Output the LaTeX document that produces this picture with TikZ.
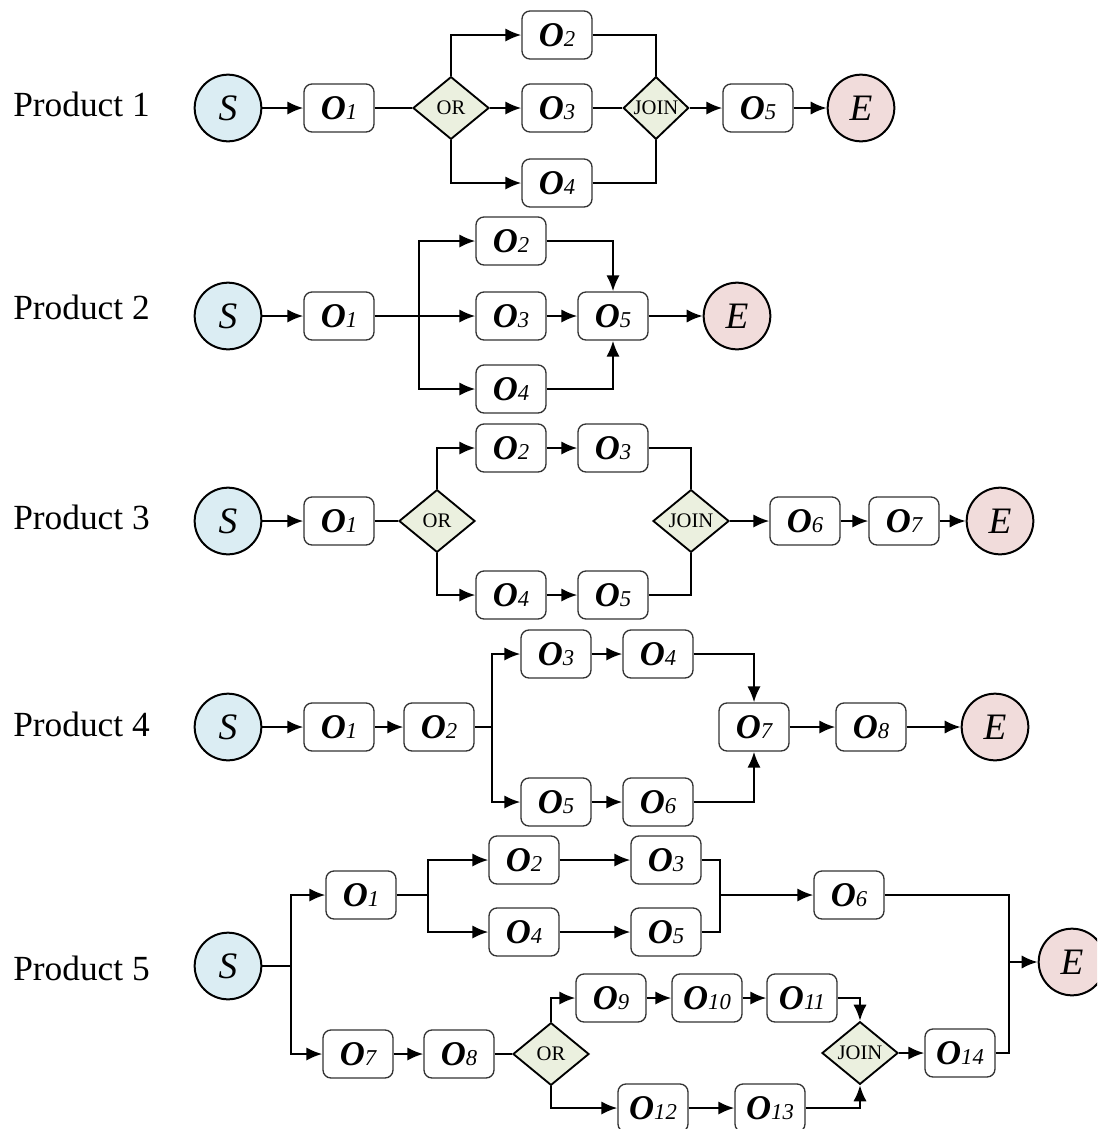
\documentclass[tikz,border=0pt]{standalone}
\usepackage{fontspec}
\setmainfont{Liberation Serif}
\usetikzlibrary{arrows.meta,shapes.geometric}

\definecolor{startfill}{HTML}{DBEDF3}
\definecolor{endfill}{HTML}{F1DCDB}
\definecolor{gatefill}{HTML}{EBF0DF}
\definecolor{boxline}{HTML}{333333}

% operation label: bold italic O with a smaller italic index
\newcommand{\opn}[1]{{\bfseries\itshape O}{\fontsize{17}{17}\selectfont\itshape #1}}

\tikzset{
  opbox/.style={draw=boxline, line width=1pt, rounded corners=6pt, fill=white,
    minimum width=52.5pt, minimum height=36pt, inner sep=0pt,
    font=\fontsize{26}{28}\selectfont},
  startpt/.style={circle, draw, line width=1.5pt, fill=startfill, minimum size=50pt,
    inner sep=0pt, font=\fontsize{28}{30}\selectfont\itshape},
  endpt/.style={startpt, fill=endfill},
  gate/.style={diamond, draw, line width=1.4pt, fill=gatefill, minimum width=57pt,
    minimum height=47pt, inner sep=0pt, font=\fontsize{15.5}{15.5}\selectfont},
  narrowgate/.style={gate, minimum width=49pt},
  rowlabel/.style={anchor=base west, inner sep=0pt, font=\fontsize{26.5}{30}\selectfont},
  link/.style={line width=1.7pt},
  flow/.style={link, -{Latex[length=12pt,width=10pt]}},
}

\begin{document}
\begin{tikzpicture}[x=0.75pt,y=-0.75pt]
\clip (0,0) rectangle (1097,1129);
\fill[white] (0,0) rectangle (1097,1129);

% ---------------- Product 1 ----------------
\node[rowlabel] (l1) at (13,116) {Product 1};
\node[startpt] (a-s) at (228,108) {S};
\node[opbox] (a-1) at (339,108) {\opn{1}};
\node[gate] (a-or) at (451,108) {OR};
\node[opbox] (a-2) at (557,35) {\opn{2}};
\node[opbox] (a-3) at (557,108) {\opn{3}};
\node[opbox] (a-4) at (557,183) {\opn{4}};
\node[narrowgate] (a-join) at (656,108) {JOIN};
\node[opbox] (a-5) at (758,108) {\opn{5}};
\node[endpt] (a-e) at (861,108) {E};

\draw[flow] (a-s) -- (a-1);
\draw[link] (a-1) -- (a-or);
\draw[flow] (a-or.north) |- (a-2.west);
\draw[flow] (a-or) -- (a-3);
\draw[flow] (a-or.south) |- (a-4.west);
\draw[link] (a-2.east) -| (a-join.north);
\draw[link] (a-3) -- (a-join);
\draw[link] (a-4.east) -| (a-join.south);
\draw[flow] (a-join) -- (a-5);
\draw[flow] (a-5) -- (a-e);

% ---------------- Product 2 ----------------
\node[rowlabel] (l2) at (13,319) {Product 2};
\node[startpt] (b-s) at (228,316) {S};
\node[opbox] (b-1) at (339,316) {\opn{1}};
\coordinate (b-fork) at (419,316);
\node[opbox] (b-2) at (511,241) {\opn{2}};
\node[opbox] (b-3) at (511,316) {\opn{3}};
\node[opbox] (b-4) at (511,389) {\opn{4}};
\node[opbox] (b-5) at (613,316) {\opn{5}};
\node[endpt] (b-e) at (737,316) {E};

\draw[flow] (b-s) -- (b-1);
\draw[flow] (b-1) -- (b-3);
\draw[flow] (b-fork) |- (b-2.west);
\draw[flow] (b-fork) |- (b-4.west);
\draw[flow] (b-2.east) -| (b-5.north);
\draw[flow] (b-3) -- (b-5);
\draw[flow] (b-4.east) -| (b-5.south);
\draw[flow] (b-5) -- (b-e);

% ---------------- Product 3 ----------------
\node[rowlabel] (l3) at (13,529) {Product 3};
\node[startpt] (c-s) at (228,521) {S};
\node[opbox] (c-1) at (339,521) {\opn{1}};
\node[gate] (c-or) at (437,521) {OR};
\node[opbox] (c-2) at (511,448) {\opn{2}};
\node[opbox] (c-3) at (613,448) {\opn{3}};
\node[opbox] (c-4) at (511,595) {\opn{4}};
\node[opbox] (c-5) at (613,595) {\opn{5}};
\node[gate] (c-join) at (691,521) {JOIN};
\node[opbox] (c-6) at (805,521) {\opn{6}};
\node[opbox] (c-7) at (904,521) {\opn{7}};
\node[endpt] (c-e) at (1000,521) {E};

\draw[flow] (c-s) -- (c-1);
\draw[link] (c-1) -- (c-or);
\draw[flow] (c-or.north) |- (c-2.west);
\draw[flow] (c-2) -- (c-3);
\draw[link] (c-3.east) -| (c-join.north);
\draw[flow] (c-or.south) |- (c-4.west);
\draw[flow] (c-4) -- (c-5);
\draw[link] (c-5.east) -| (c-join.south);
\draw[flow] (c-join) -- (c-6);
\draw[flow] (c-6) -- (c-7);
\draw[flow] (c-7) -- (c-e);

% ---------------- Product 4 ----------------
\node[rowlabel] (l4) at (13,736) {Product 4};
\node[startpt] (d-s) at (228,727) {S};
\node[opbox] (d-1) at (339,727) {\opn{1}};
\node[opbox] (d-2) at (439,727) {\opn{2}};
\coordinate (d-fork) at (492,727);
\node[opbox] (d-3) at (556,654) {\opn{3}};
\node[opbox] (d-4) at (658,654) {\opn{4}};
\node[opbox] (d-5) at (556,802) {\opn{5}};
\node[opbox] (d-6) at (658,802) {\opn{6}};
\node[opbox] (d-7) at (754,727) {\opn{7}};
\node[opbox] (d-8) at (871,727) {\opn{8}};
\node[endpt] (d-e) at (995,727) {E};

\draw[flow] (d-s) -- (d-1);
\draw[flow] (d-1) -- (d-2);
\draw[link] (d-2) -- (d-fork);
\draw[flow] (d-fork) |- (d-3.west);
\draw[flow] (d-fork) |- (d-5.west);
\draw[flow] (d-3) -- (d-4);
\draw[flow] (d-5) -- (d-6);
\draw[flow] (d-4.east) -| (d-7.north);
\draw[flow] (d-6.east) -| (d-7.south);
\draw[flow] (d-7) -- (d-8);
\draw[flow] (d-8) -- (d-e);

% ---------------- Product 5 ----------------
\node[rowlabel] (l5) at (13,980) {Product 5};
\node[startpt] (f-s) at (228,966) {S};
\coordinate (f-fork) at (291,966);
\node[opbox] (f-1) at (361,895) {\opn{1}};
\coordinate (f-fork1) at (428,895);
\node[opbox] (f-2) at (524,860) {\opn{2}};
\node[opbox] (f-3) at (666,860) {\opn{3}};
\node[opbox] (f-4) at (524,932) {\opn{4}};
\node[opbox] (f-5) at (666,932) {\opn{5}};
\coordinate (f-merge1) at (720,895);
\node[opbox] (f-6) at (849,895) {\opn{6}};
\node[opbox] (f-7) at (358,1054) {\opn{7}};
\node[opbox] (f-8) at (459,1054) {\opn{8}};
\node[gate] (f-or) at (551,1054) {OR};
\node[opbox] (f-9) at (611,998) {\opn{9}};
\node[opbox] (f-10) at (707,998) {\opn{10}};
\node[opbox] (f-11) at (802,998) {\opn{11}};
\node[opbox] (f-12) at (653,1108) {\opn{12}};
\node[opbox] (f-13) at (770,1108) {\opn{13}};
\node[gate] (f-join) at (860,1053) {JOIN};
\node[opbox] (f-14) at (960,1053) {\opn{14}};
\coordinate (f-merge2) at (1009,962);
\node[endpt] (f-e) at (1072,962) {E};

\draw[link] (f-s) -- (f-fork);
\draw[flow] (f-fork) |- (f-1.west);
\draw[flow] (f-fork) |- (f-7.west);
\draw[link] (f-1) -- (f-fork1);
\draw[flow] (f-fork1) |- (f-2.west);
\draw[flow] (f-fork1) |- (f-4.west);
\draw[flow] (f-2) -- (f-3);
\draw[flow] (f-4) -- (f-5);
\draw[link] (f-3.east) -| (f-merge1);
\draw[link] (f-5.east) -| (f-merge1);
\draw[flow] (f-merge1) -- (f-6.west);
\draw[flow] (f-7) -- (f-8);
\draw[link] (f-8) -- (f-or);
\draw[flow] (f-or.north) |- (f-9.west);
\draw[flow] (f-9) -- (f-10);
\draw[flow] (f-10) -- (f-11);
\draw[flow] (f-11.east) -| (f-join.north);
\draw[flow] (f-or.south) |- (f-12.west);
\draw[flow] (f-12) -- (f-13);
\draw[flow] (f-13.east) -| (f-join.south);
\draw[flow] (f-join) -- (f-14);
\draw[link] (f-6.east) -| (f-merge2);
\draw[link] (f-14.east) -| (f-merge2);
\draw[flow] (f-merge2) -- (f-e.west);
\end{tikzpicture}
\end{document}
